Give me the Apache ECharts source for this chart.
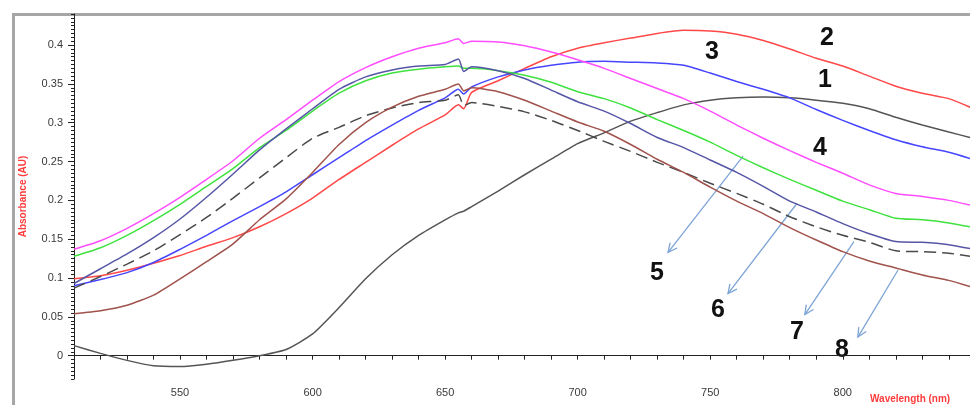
<!DOCTYPE html>
<html>
<head>
<meta charset="utf-8">
<title>Absorbance spectra</title>
<script src="https://cdn.jsdelivr.net/npm/echarts@6/dist/echarts.min.js"></script>
<style>
    body { margin: 0; padding: 0; background: #fff; }
    #main { width: 970px; height: 405px; }
</style>
</head>
<body>
<div id="main"></div>
<script>
    // wavelength (nm) and absorbance (AU)
    var wavelength = [510, 520, 530, 540, 550, 560, 570, 580, 590, 600, 610, 620, 630, 640, 650, 655, 657, 660,
        670, 680, 690, 700, 710, 720, 730, 740, 750, 760, 770, 780, 790, 800, 810, 820, 830, 840, 848];

    var curve1 = [0.013, 0.003, -0.006, -0.013, -0.014, -0.011, -0.006, 0.000, 0.008, 0.028, 0.062, 0.099, 0.130, 0.155, 0.175, 0.184, 0.186, 0.192,
        0.212, 0.233, 0.253, 0.273, 0.287, 0.302, 0.313, 0.323, 0.329, 0.332, 0.333, 0.332, 0.329, 0.325, 0.318, 0.307, 0.297, 0.288, 0.281];
    var curve2 = [0.099, 0.103, 0.110, 0.119, 0.129, 0.141, 0.152, 0.166, 0.183, 0.203, 0.227, 0.249, 0.271, 0.292, 0.310, 0.323, 0.318, 0.339,
        0.354, 0.370, 0.385, 0.396, 0.403, 0.409, 0.415, 0.419, 0.418, 0.414, 0.406, 0.395, 0.383, 0.373, 0.360, 0.347, 0.338, 0.331, 0.320];
    var curve3 = [0.090, 0.098, 0.107, 0.120, 0.137, 0.155, 0.174, 0.192, 0.211, 0.233, 0.255, 0.277, 0.297, 0.316, 0.332, 0.343, 0.337, 0.346,
        0.359, 0.368, 0.374, 0.378, 0.379, 0.378, 0.377, 0.374, 0.364, 0.353, 0.343, 0.332, 0.317, 0.303, 0.290, 0.278, 0.269, 0.262, 0.254];
    var curve4 = [0.137, 0.148, 0.164, 0.183, 0.204, 0.227, 0.251, 0.280, 0.304, 0.329, 0.353, 0.371, 0.385, 0.396, 0.403, 0.408, 0.402, 0.405,
        0.404, 0.399, 0.391, 0.381, 0.370, 0.357, 0.344, 0.331, 0.315, 0.297, 0.280, 0.264, 0.249, 0.235, 0.220, 0.209, 0.205, 0.200, 0.194];
    var curve5 = [0.128, 0.139, 0.155, 0.174, 0.195, 0.218, 0.241, 0.268, 0.290, 0.315, 0.338, 0.354, 0.364, 0.369, 0.372, 0.373, 0.370, 0.370,
        0.367, 0.361, 0.352, 0.340, 0.331, 0.319, 0.304, 0.290, 0.275, 0.258, 0.242, 0.227, 0.213, 0.199, 0.188, 0.177, 0.175, 0.171, 0.166];
    var curve6 = [0.093, 0.112, 0.131, 0.152, 0.176, 0.204, 0.234, 0.265, 0.292, 0.318, 0.343, 0.359, 0.368, 0.373, 0.375, 0.382, 0.366, 0.372,
        0.367, 0.357, 0.342, 0.327, 0.315, 0.299, 0.281, 0.268, 0.252, 0.236, 0.218, 0.199, 0.185, 0.170, 0.157, 0.147, 0.146, 0.143, 0.138];
    var curve7 = [0.087, 0.102, 0.118, 0.135, 0.156, 0.178, 0.203, 0.229, 0.255, 0.280, 0.294, 0.309, 0.319, 0.326, 0.329, 0.336, 0.322, 0.326,
        0.321, 0.314, 0.303, 0.290, 0.276, 0.263, 0.249, 0.236, 0.222, 0.209, 0.195, 0.179, 0.166, 0.155, 0.146, 0.135, 0.134, 0.132, 0.128];
    var curve8 = [0.054, 0.058, 0.065, 0.078, 0.099, 0.121, 0.144, 0.175, 0.202, 0.236, 0.272, 0.300, 0.320, 0.334, 0.343, 0.350, 0.341, 0.345,
        0.340, 0.329, 0.315, 0.301, 0.289, 0.272, 0.253, 0.236, 0.217, 0.199, 0.183, 0.165, 0.149, 0.134, 0.122, 0.113, 0.104, 0.097, 0.089];

    var curveNames = ['1', '2', '3', '4', '5', '6', '7', '8'];
    var xTickLabels = [550, 600, 650, 700, 750, 800];
    var yTickLabels = [0, 0.05, 0.1, 0.15, 0.2, 0.25, 0.3, 0.35, 0.4];

    // arrows from curves 5..8 down to their numbers, [from, to] in data units
    var arrowFrom = [[762.4, 0.257], [782.7, 0.196], [804.2, 0.147], [820.8, 0.110]];
    var arrowTo = [[734.1, 0.133], [756.7, 0.080], [785.7, 0.053], [805.7, 0.024]];

    function pairs(vals) {
        return wavelength.map(function (w, i) { return [w, vals[i]]; });
    }

    var xMinor = [];
    for (var w = 510; w <= 848; w += 10) xMinor.push(w);
    var yMinor = [];
    for (var k = -6; k <= 88; k++) yMinor.push(+(k * 0.005).toFixed(3));

    var chart = echarts.init(document.getElementById('main'));

    var lineDefs = [
        {data: curve1, color: '#555555', type: 'solid'},
        {data: curve2, color: '#ff4848', type: 'solid'},
        {data: curve3, color: '#4646ff', type: 'solid'},
        {data: curve4, color: '#ff4dff', type: 'solid'},
        {data: curve5, color: '#3fe23f', type: 'solid'},
        {data: curve6, color: '#5656a6', type: 'solid'},
        {data: curve7, color: '#4a4a4a', type: [12, 6]},
        {data: curve8, color: '#a0524c', type: 'solid'}
    ];

    var series = lineDefs.map(function (d, i) {
        return {
            name: curveNames[i],
            type: 'line',
            data: pairs(d.data),
            showSymbol: false,
            smooth: 0.2,
            lineStyle: {color: d.color, width: 1.5, type: d.type}
        };
    });

    var labelFont = {color: '#3a3a3a', fontSize: 11, fontFamily: 'Liberation Sans, Arial'};

    var option = {
        animation: false,
        backgroundColor: '#fff',
        grid: {left: 74, right: 0, top: 14, bottom: 26},
        xAxis: [{
            type: 'value', min: 510, max: 848,
            axisLine: {lineStyle: {color: '#222', width: 1}},
            axisTick: {customValues: xMinor, length: 4, lineStyle: {color: '#222'}},
            axisLabel: Object.assign({customValues: xTickLabels, margin: 8}, labelFont),
            splitLine: {show: false}
        }],
        yAxis: [{
            type: 'value', min: -0.03, max: 0.44,
            name: 'Absorbance (AU)', nameLocation: 'middle', nameGap: 46, nameRotate: 90,
            nameTextStyle: {color: '#ff3b3b', fontSize: 10, fontWeight: 'bold', fontFamily: 'Liberation Sans, Arial'},
            axisLine: {show: true, lineStyle: {color: '#222', width: 1}},
            axisTick: {show: true, customValues: yTickLabels, length: 6, lineStyle: {color: '#222'}},
            axisLabel: Object.assign({customValues: yTickLabels, margin: 11}, labelFont),
            splitLine: {show: false}
        }, {
            type: 'value', min: -0.03, max: 0.44, position: 'left',
            axisLine: {show: false},
            axisTick: {show: true, customValues: yMinor, length: 3, lineStyle: {color: '#222'}},
            axisLabel: {show: false},
            splitLine: {show: false}
        }],
        series: series,
        graphic: [
            {id: 'frameTop', type: 'line', shape: {x1: 12, y1: 14.5, x2: 970, y2: 14.5}, style: {stroke: '#a6a6a6', lineWidth: 3}},
            {id: 'frameLeft', type: 'line', shape: {x1: 13.5, y1: 13, x2: 13.5, y2: 405}, style: {stroke: '#a6a6a6', lineWidth: 3}},
            {id: 'xname', type: 'text', left: 870, top: 394,
                style: {text: 'Wavelength (nm)', fill: '#ff3b3b', font: 'bold 10px Liberation Sans, Arial'}}
        ]
    };
    chart.setOption(option);

    // curve numbers
    var numberPos = [[825, 80], [827, 38], [712, 52], [820, 148], [657, 273], [718, 310], [797, 332], [842, 350]];
    var extra = [];
    numberPos.forEach(function (p, i) {
        extra.push({
            id: 'num' + i, type: 'text', x: p[0], y: p[1],
            style: {text: curveNames[i], fill: '#111', font: 'bold 25px Liberation Sans, Arial',
                textAlign: 'center', textVerticalAlign: 'middle'}
        });
    });

    // arrows
    arrowFrom.forEach(function (a, i) {
        var p0 = chart.convertToPixel({gridIndex: 0}, a);
        var p1 = chart.convertToPixel({gridIndex: 0}, arrowTo[i]);
        var ang = Math.atan2(p0[1] - p1[1], p0[0] - p1[0]);
        var len = 10, spread = 0.45;
        var stroke = {stroke: '#7ea4d6', lineWidth: 1.3};
        extra.push({id: 'ar' + i, type: 'line', shape: {x1: p0[0], y1: p0[1], x2: p1[0], y2: p1[1]}, style: stroke});
        extra.push({id: 'arh' + i, type: 'polyline', shape: {points: [
            [p1[0] + len * Math.cos(ang + spread), p1[1] + len * Math.sin(ang + spread)],
            [p1[0], p1[1]],
            [p1[0] + len * Math.cos(ang - spread), p1[1] + len * Math.sin(ang - spread)]
        ]}, style: stroke});
    });
    chart.setOption({graphic: extra});
</script>
</body>
</html>
